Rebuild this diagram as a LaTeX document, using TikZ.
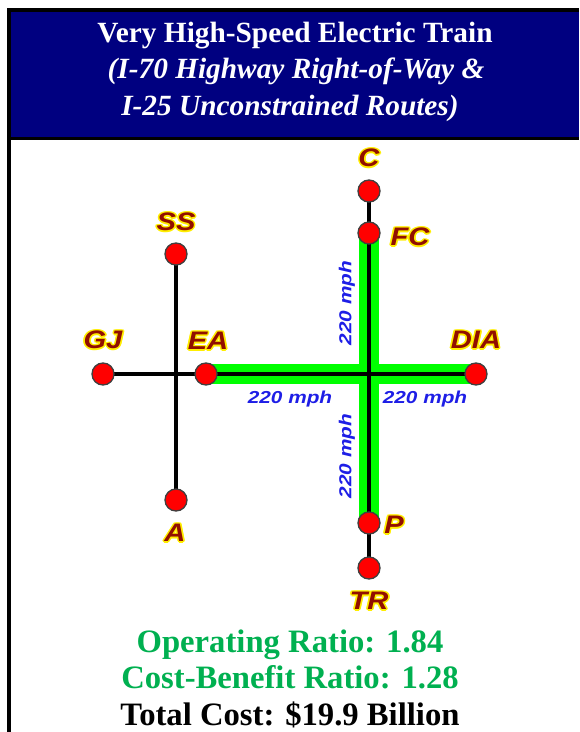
\documentclass[tikz,border=0pt]{standalone}
\usepackage{fontspec}
\setmainfont{Liberation Serif}
\newfontfamily\lblfont{Liberation Sans}
\usetikzlibrary{positioning,calc}
\definecolor{hdblue}{RGB}{0,0,128}
\definecolor{stred}{RGB}{255,0,0}
\definecolor{lblred}{RGB}{145,15,0}
\definecolor{glowyel}{RGB}{255,238,0}
\definecolor{trackgreen}{RGB}{0,255,0}
\definecolor{mphblue}{RGB}{30,30,230}
\definecolor{ratiogreen}{RGB}{0,176,80}
\newcommand{\halo}[1]{%
\rlap{\color{glowyel}\kern-1.1pt#1}\rlap{\color{glowyel}\kern1.1pt#1}%
\rlap{\color{glowyel}\raisebox{1.1pt}{#1}}\rlap{\color{glowyel}\raisebox{-1.1pt}{#1}}%
\rlap{\color{glowyel}\kern-.8pt\raisebox{.8pt}{#1}}\rlap{\color{glowyel}\kern.8pt\raisebox{.8pt}{#1}}%
\rlap{\color{glowyel}\kern-.8pt\raisebox{-.8pt}{#1}}\rlap{\color{glowyel}\kern.8pt\raisebox{-.8pt}{#1}}%
#1}
\newcommand{\stn}[1]{\scalebox{1.15}[1]{\halo{#1}}}
\newcommand{\spd}{\scalebox{1.2}[1]{220 mph}}
\tikzset{
  station/.style={circle, fill=stred, draw=black!75, line width=1pt, minimum size=16.5pt, inner sep=0pt},
  stlbl/.style={font=\lblfont\bfseries\itshape\fontsize{19}{19}\selectfont, text=lblred, inner sep=0pt},
  mph/.style={font=\lblfont\bfseries\itshape\fontsize{13}{13}\selectfont, text=mphblue, inner sep=0pt},
  track/.style={line width=3.5pt, black},
  fastline/.style={line width=15pt, trackgreen},
  headtxt/.style={text=white, anchor=base, inner sep=0pt, font=\bfseries\fontsize{22}{22}\selectfont},
  ratio/.style={anchor=base, inner sep=0pt, font=\bfseries\fontsize{24.5}{24.5}\selectfont}
}
\begin{document}
\begin{tikzpicture}[x=0.75pt, y=-0.75pt]
  \useasboundingbox (0,0) rectangle (579,732);
  % frame and title
  \fill[hdblue] (11,12) rectangle (579,137);
  \draw[line width=3pt] (9,732) -- (9,10) -- (579,10);
  \draw[line width=2.25pt] (9,138.5) -- (579,138.5);
  \node[headtxt] (hd1) at (295,42) {Very High-Speed Electric Train};
  \node[headtxt] (hd2) at (296,78) {\itshape (I-70 Highway Right-of-Way \&};
  \node[headtxt] (hd3) at (290,115) {\itshape I-25 Unconstrained Routes)};
  % stations
  \coordinate (SS) at (176,254);
  \coordinate (GJ) at (103,374);
  \coordinate (EA) at (206,374);
  \coordinate (A) at (176,500);
  \coordinate (DIA) at (476,374);
  \coordinate (C) at (369,191);
  \coordinate (FC) at (369,233);
  \coordinate (P) at (369,523);
  \coordinate (TR) at (369,568);
  % routes
  \draw[fastline] (EA) -- (DIA);
  \draw[fastline] (FC) -- (P);
  \draw[track] (GJ) -- (DIA);
  \draw[track] (SS) -- (A);
  \draw[track] (C) -- (TR);
  \foreach \s in {SS,GJ,EA,A,DIA,C,FC,P,TR}
    \node[station] (n\s) at (\s) {};
  \node[stlbl] (tSS) at (176,222) {\stn{SS}};
  \node[stlbl] (tGJ) at (103,340) {\stn{GJ}};
  \node[stlbl] (tEA) at (208,341) {\stn{EA}};
  \node[stlbl] (tA) at (175,533) {\stn{A}};
  \node[stlbl] (tDIA) at (476,340) {\stn{DIA}};
  \node[stlbl] (tC) at (369,158) {\stn{C}};
  \node[stlbl] (tFC) at (410,237) {\stn{FC}};
  \node[stlbl] (tP) at (394,525) {\stn{P}};
  \node[stlbl] (tTR) at (369,601) {\stn{TR}};
  % speeds
  \node[mph] (sW) at (290,399) {\spd};
  \node[mph] (sE) at (425,399) {\spd};
  \node[mph, rotate=90] (sN) at (347,303) {\spd};
  \node[mph, rotate=90] (sS) at (347,456) {\spd};
  % figures
  \node[ratio, text=ratiogreen] (or) at (290,652) {Operating Ratio: 1.84};
  \node[ratio, text=ratiogreen] (cb) at (290,688) {Cost-Benefit Ratio: 1.28};
  \node[ratio] (tc) at (290,725) {Total Cost: \$19.9 Billion};
\end{tikzpicture}
\end{document}
